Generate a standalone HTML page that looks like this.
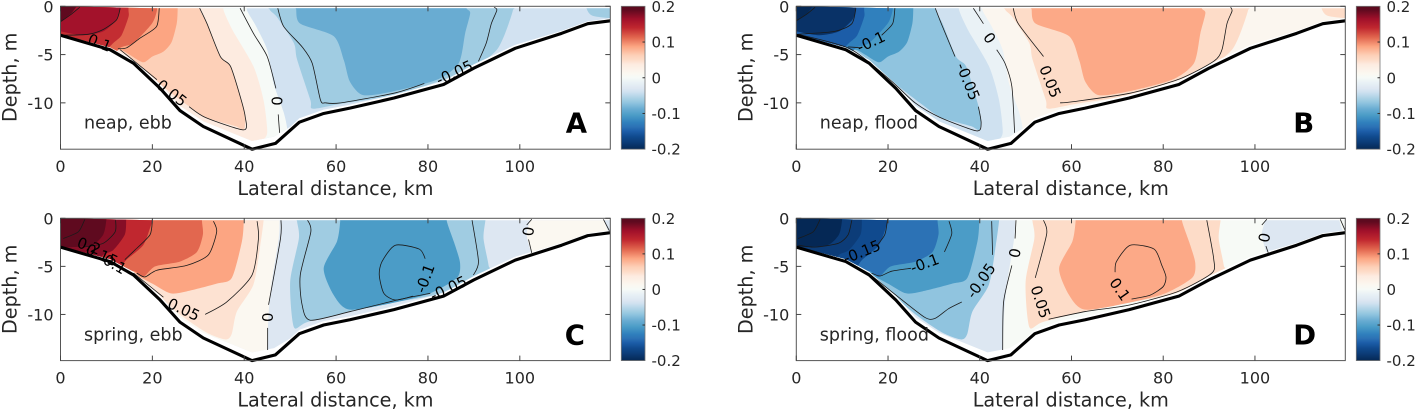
<!DOCTYPE html>
<html lang="en">
<head>
<meta charset="utf-8">
<title>Lateral sections of velocity</title>
<style>
html,body{margin:0;padding:0;background:#fff;width:1417px;height:411px;overflow:hidden}
svg{display:block}
text{font-family:"DejaVu Sans","Liberation Sans",sans-serif;fill:#262626}
text.dark{fill:#000}
</style>
</head>
<body>
<svg id="fig" xmlns="http://www.w3.org/2000/svg" width="1417" height="411" viewBox="0 0 1417 411"></svg>
<script>
// ---------- colour scale (velocity value -> colour) ----------
const colormapValues = [-0.2,-0.18,-0.165,-0.15,-0.1375,-0.125,-0.105,-0.0875,-0.07,-0.0625,-0.04,-0.03,-0.012,0,0.012,0.0375,0.05,0.0625,0.0875,0.1125,0.14,0.165,0.19,0.2];
const colormapColors = ['#052855','#0c3c78','#104a8e','#1c5da8','#2c72b5','#3080bd','#4b9cc7','#69acd2','#90c4df','#a0cce2','#cfe1f0','#dde7f2','#eaf2f6','#f6faf7','#fbf8f1','#fdebe0','#fddcc8','#fdd0b8','#fca582','#e2674f','#c0272f','#a0102a','#5f0a1f','#5a0a1e'];

// ---------- axes ----------
const xTicks = [0,20,40,60,80,100];
const yTicks = [0,-5,-10];
const colorbarTicks = [0.2,0.1,0,-0.1,-0.2];
const colorbarTickLabels = ['0.2','0.1','0','-0.1','-0.2'];
const xMaxKm = 119.7;
const yMinM = -14.8;

// ---------- bottom profile (km, m) ----------
const bathymetry = [[0,-3],[10.8,-4.5],[15.9,-5.9],[21.7,-8.5],[26,-10.8],[31.1,-12.45],[41.7,-14.8],[46.8,-14.2],[52,-12],[57.3,-11.1],[63,-10.55],[72.6,-9.5],[83.4,-8.1],[90,-6.4],[99,-4.35],[109.1,-2.8],[114.8,-1.8],[119.7,-1.5]];
const waterEdge = [[0,-2.9],[10.8,-4.25],[15.9,-5.55],[21.7,-8.05],[26,-10.3],[31.1,-11.9],[41.7,-13.95],[46.5,-13.5],[50,-12.5],[52,-11.6],[57.3,-10.7],[63,-10.2],[72.6,-9.15],[83.4,-7.75],[90,-6],[99,-4],[109.1,-2.55],[114.8,-1.55],[119.7,-1.25]];

// ---------- filled regions: neap tide sections (A, B) ----------
const neapEdges = [
 [[40.6,1],[40.6,-.4],[42.5,-2],[45,-4.5],[46.4,-8],[48.6,-11],[49.4,-13],[49,-16]],
 [[35.5,1],[35.5,-.4],[37.5,-2.5],[42,-6.2],[44.2,-9.7],[45,-13.1],[43.5,-14.2],[41,-16]],
 [[30.2,1],[30.4,-.4],[31.9,-1.8],[34.8,-5.2],[37,-6.2],[39.1,-9.3],[40.2,-11.4],[39.9,-12.8],[38,-12.4],[31.5,-11.5],[27.5,-10.2],[21,-7.8],[13,-4.6],[5,-3.4],[0,-3.3]],
 [[25.5,1],[25.5,-.4],[25.3,-1.8],[24.2,-3.7],[22.4,-4.7],[20,-5.2],[18,-5.8],[15,-5],[13,-4.5],[10,-4.6]],
 [[21,1],[21,-.4],[19.9,-1.8],[15.9,-3.8],[13,-4.3],[11,-5.5]],
 [[14.8,1],[14.8,-.4],[14.8,-1.1],[13.3,-3],[11.5,-3.8],[9,-5]],
 [[13,1],[13,-.3],[12.2,-1.4],[9.3,-2.6],[5,-3],[0,-2.6]],
 [[4.2,.5],[2.4,-.7],[0,-1.6]],
 [[45.5,1],[45.5,-.3],[47.1,-1.1],[50.8,-3.8],[51.5,-5.5],[54.4,-9.7],[54.9,-10.6],[61,-10.1],[72.6,-9.2],[83.4,-7.6],[91.4,-5.9],[95,-4.5],[96.8,-2.8],[98.5,-.4],[98.5,1]],
 [[51.3,1],[51.3,-.3],[52.2,-1.8],[59.5,-3.1],[61.7,-5.6],[63,-7.8],[65.9,-9.2],[72.6,-8.8],[82,-7.6],[86.7,-5.9],[88.1,-2.8],[89.2,-.7],[88.4,-.2],[88.4,1]],
 [[114.4,1],[114.6,-.3],[116,-1],[121,-1.1],[121,1]]
];
const neapCloses = ['left','left','left','left','left','left','left','left','loop','loop','loop'];
const panelABase = -0.0375;
const panelAValues = [0,0.0375,0.0625,0.0875,0.1125,0.1375,0.1625,0.19,-0.0625,-0.0875,-0.0625];
const panelBBase = 0.015;
const panelBValues = [-0.012,-0.04,-0.07,-0.105,-0.125,-0.15,-0.19,-0.2,0.05,0.085,0.05];

// ---------- filled regions: spring tide sections (C, D) ----------
const springEdges = [
 [[47.7,1],[47.7,-.3],[47.5,-2.1],[46,-6.6],[45.3,-10],[45,-13.9],[45,-16]],
 [[44.2,1],[44.2,-.3],[43.5,-2.8],[42,-6.9],[38.4,-9.7],[37.3,-12],[36,-12.6],[31.9,-11.9],[26,-10],[20,-7.5],[14,-5],[8,-4]],
 [[39.9,1],[39.9,-.3],[39.5,-2.4],[37.3,-6.2],[34,-6.8],[27.5,-7.6],[23.9,-7.8],[20,-6.8],[15,-5.6],[10,-5]],
 [[30.8,1],[30.8,-.3],[31,-1.7],[29.7,-3.5],[26,-4.5],[20.6,-5],[18,-6.1],[15.9,-5.5],[12,-6]],
 [[19.9,1],[19.9,-.3],[19.5,-1],[18,-2.8],[14.4,-4.3],[13.3,-5],[11,-6]],
 [[14.3,1],[14.3,-.1],[14,-1.7],[11.5,-3.3],[9.3,-3.8],[7,-5]],
 [[10,1],[10,-.1],[9.3,-1.7],[6.8,-2.8],[1.3,-3],[0,-2.8]],
 [[51.5,1],[51.5,-.3],[51.9,-2.1],[50,-6.6],[50.8,-11.3],[53.7,-10.8],[63,-9.7],[73.3,-8.7],[82.7,-7.8],[92.8,-5.4],[93.2,-4.9],[92.1,-2.1],[92.5,-.2],[92.5,1]],
 [[60.9,1],[60.9,-.3],[60.2,-2.4],[57.3,-5.2],[59.5,-8],[63,-9.5],[73.3,-8.7],[80.5,-7.8],[86.3,-6.2],[87,-4.7],[85.9,-2.8],[84.1,-.3],[84.1,1]],
 [[102.2,1],[102.2,-.2],[101.5,-1.7],[102.6,-3.8],[104,-6],[125,-6],[125,1]],
 [[118.2,1],[118.4,-.2],[119.5,-1.5],[122,-1.5],[122,1]]
];
const springCloses = ['left','left','left','left','left','left','left','loop','loop','loop','loop'];
const panelCBase = -0.03;
const panelCValues = [0.012,0.045,0.0875,0.1125,0.14,0.175,0.19,-0.0625,-0.105,0.012,-0.03];
const panelDBase = 0.003;
const panelDValues = [-0.03,-0.07,-0.105,-0.1375,-0.165,-0.18,-0.2,0.05,0.085,-0.03,0.003];

// ---------- contour lines (km, m) ----------
const panelAContours = [
 [[4.2,-.1],[2.4,-.8],[0,-1.6]],
 [[13,-.2],[12.2,-1.4],[9.3,-2.4],[6,-2.9],[.2,-3]],
 [[21.5,-.2],[20.9,-2.1],[17.3,-3.3],[14.4,-4.3],[12.5,-4.4]],
 [[30.3,-.2],[31.9,-1.8],[34.8,-5.2],[37,-6.2],[39.1,-9.3],[40.2,-11.4],[39.9,-12.8],[31.5,-11.5],[28,-10.4]],
 [[21,-7.6],[13,-4.5]],
 [[39.1,-.2],[42,-2.8],[45,-5.2],[46.9,-8.5]],
 [[47.4,-11.2],[47.7,-13.1]],
 [[47.3,-.2],[48.6,-2.1],[52.6,-4.2],[54.8,-5.9],[56.6,-9.7],[57.7,-10],[61,-10],[72.6,-9],[79.2,-8]],
 [[91,-5.7],[92.7,-3.8],[93.8,-1.8],[95,-.4],[94.4,-.1]]
];
const panelBContours = [
 [[4.1,-.1],[2.3,-.8],[0,-1.5]],
 [[13,-.2],[12.1,-1.8],[8.4,-2.6],[.4,-2.9]],
 [[21.5,-.2],[21,-1.8],[18.6,-3]],
 [[14,-4.3],[11.3,-4.2]],
 [[30.3,-.2],[31.7,-1.9],[34.6,-5.2]],
 [[39.7,-10.4],[40.3,-12.1],[39.3,-12.9],[31.3,-11.5],[25.9,-10],[20.4,-7.6],[11.7,-4.4],[.4,-2.9]],
 [[38.6,-.2],[40.8,-1.8]],
 [[43.7,-4.5],[45.5,-5.9],[47,-8.3],[47.6,-13.1]],
 [[47.3,-.2],[48.4,-1.8],[53.9,-5.2]],
 [[57.5,-10],[60,-9.9],[72.8,-9],[83.7,-7.5],[91,-5.7],[92.8,-4.5],[93.9,-1.8],[95,-.5],[94.7,-.1]]
];
const panelCContours = [
 [[5.3,-.1],[3.9,-1.4],[.6,-2.1]],
 [[12,-.2],[11.9,-1.4],[9.3,-2.6],[5,-3]],
 [[20,-.1],[19.5,-1.7],[16.2,-3.3],[14,-4.3]],
 [[33.3,-.3],[34,-1.4],[32.2,-3.8],[27.5,-4.9],[21,-5.4],[18.4,-6.1],[16.6,-5.7]],
 [[42.8,-.3],[43.1,-2.1],[41.7,-5.9],[36.2,-8.7],[31.5,-10]],
 [[22.4,-8.2],[15.9,-5.7]],
 [[48,-.2],[47.9,-2.1],[45.3,-9]],
 [[45.1,-11.4],[45.1,-13.7]],
 [[53.8,-.2],[54.5,-1.4],[52.2,-5.9],[52.6,-9],[54.4,-10.6],[63.1,-9.7],[73.3,-8.5],[80.5,-7.8]],
 [[89.9,-5.9],[91,-4.5],[89.6,-.2]],
 [[79.4,-4.2],[78.1,-3.2],[72.9,-2.8],[70,-4.5],[69.4,-5.9],[70.4,-7.8],[72.9,-8.5],[76.7,-8.1]],
 [[102.6,-.1],[101.5,-.7]],
 [[101.9,-2.2],[102.6,-3.6]],
 [[118.2,-.1],[119.5,-1.3]]
];
const panelDContours = [
 [[5.2,-.1],[3.7,-1.4],[.4,-2.1]],
 [[12.1,-.2],[11.3,-1.7],[9.2,-2.6],[4,-3],[.4,-2.8]],
 [[19.9,-.1],[19.3,-1.7],[17.5,-2.9]],
 [[33.3,-.3],[33.9,-1.6],[32.3,-3.5]],
 [[25,-5.2],[20.8,-5.5],[18.3,-6],[16.4,-5.7]],
 [[42.6,-.3],[42.8,-3.8]],
 [[36.1,-8.7],[33.2,-9.4],[30.3,-10.4],[28,-10.3],[21.5,-7.9],[15.7,-5.7]],
 [[47.9,-.2],[47.7,-2.1]],
 [[47,-4.9],[45.2,-8.7],[45,-13.7]],
 [[53.9,-.2],[54.6,-1.6],[52.1,-6.2]],
 [[55,-10.5],[63,-9.7],[72.8,-9],[83.3,-7.6],[90.6,-5.7],[91,-4.2],[89.5,-.2]],
 [[69.5,-5.6],[69.8,-4.5],[72.8,-2.8],[78,-3.2],[79.7,-4.9],[80.6,-6.1],[80,-7.1],[77.1,-8],[73.1,-8.4]],
 [[102.6,-.1],[101.5,-.7]],
 [[102.4,-2.9],[102.9,-3.6]],
 [[118.6,-.1],[119.7,-1.3]]
];

// ---------- contour labels ----------
const panelALabelText = ['0.1','0.05','0','-0.05'];
const panelALabelKm = [8.5,24.2,47,85.8];
const panelALabelDepth = [-3.8,-9,-9.8,-6.9];
const panelALabelAngle = [22,38,90,-25];
const panelBLabelText = ['-0.1','-0.05','0','0.05'];
const panelBLabelKm = [16.3,37.4,42.1,55.3];
const panelBLabelDepth = [-3.7,-7.8,-3.3,-7.8];
const panelBLabelAngle = [-25,68,55,68];
const panelCLabelText = ['0.2','0.15','0.1','0.05','0','-0.05','-0.1','0'];
const panelCLabelKm = [6.2,9,11.8,26.8,45,84.5,79.4,101.7];
const panelCLabelDepth = [-2.9,-3.85,-4.8,-9.5,-10.3,-7.3,-6.25,-1.35];
const panelCLabelAngle = [20,25,30,25,90,-25,-70,95];
const panelDLabelText = ['-0.15','-0.1','-0.05','0','0.05','0','0.1'];
const panelDLabelKm = [14.3,28,40.3,47.5,53.2,101.9,70.5];
const panelDLabelDepth = [-3.5,-4.7,-6.5,-3.6,-8.7,-2,-7.4];
const panelDLabelAngle = [-22,-20,-55,100,72,100,55];

// ---------- panel captions ----------
const panelCaptions = ['neap, ebb','neap, flood','spring, ebb','spring, flood'];
const panelLetters = ['A','B','C','D'];

const NS = 'http://www.w3.org/2000/svg';
const svg = document.getElementById('fig');
function add(parent, tag, attrs, txt){
  const el = document.createElementNS(NS, tag);
  for (const k in attrs) el.setAttribute(k, attrs[k]);
  if (txt !== undefined) el.textContent = txt;
  parent.appendChild(el);
  return el;
}
function colorOf(v){
  if (v <= colormapValues[0]) return colormapColors[0];
  for (let i = 1; i < colormapValues.length; i++){
    if (v <= colormapValues[i]){
      const t = (v - colormapValues[i-1]) / (colormapValues[i] - colormapValues[i-1]);
      const a = parseInt(colormapColors[i-1].slice(1),16), b = parseInt(colormapColors[i].slice(1),16);
      const ch = s => Math.round(((a>>s)&255)*(1-t) + ((b>>s)&255)*t);
      return 'rgb(' + ch(16) + ',' + ch(8) + ',' + ch(0) + ')';
    }
  }
  return colormapColors[colormapColors.length-1];
}
function smooth(pts, closed){
  const n = pts.length;
  const at = i => closed ? pts[(i+n)%n] : pts[Math.max(0,Math.min(n-1,i))];
  let d = 'M' + pts[0][0].toFixed(2) + ' ' + pts[0][1].toFixed(2);
  const segs = closed ? n : n-1;
  for (let i = 0; i < segs; i++){
    const p0 = at(i-1), p1 = at(i), p2 = at(i+1), p3 = at(i+2);
    const c1x = p1[0] + (p2[0]-p0[0])/8, c1y = p1[1] + (p2[1]-p0[1])/8;
    const c2x = p2[0] - (p3[0]-p1[0])/8, c2y = p2[1] - (p3[1]-p1[1])/8;
    d += 'C' + c1x.toFixed(2) + ' ' + c1y.toFixed(2) + ' ' + c2x.toFixed(2) + ' ' + c2y.toFixed(2) + ' ' + p2[0].toFixed(2) + ' ' + p2[1].toFixed(2);
  }
  return d;
}

function drawPanel(cfg){
  const X = km => cfg.left + km * (cfg.right - cfg.left) / xMaxKm;
  const Y = m => cfg.top + (m / yMinM) * (cfg.bottom - cfg.top);
  const P = p => [X(p[0]), Y(p[1])];

  const g = add(svg, 'g', {});
  
  

  // clip to water column
  const clipId = 'water-' + cfg.letter;
  const clip = add(g, 'clipPath', {id: clipId});
  const surface = [[119.7,-.2],[20,-.2],[0,0]];
  const waterPts = waterEdge.concat(surface).map(P);
  add(clip, 'polygon', {points: waterPts.map(p => p[0].toFixed(2)+','+p[1].toFixed(2)).join(' ')});

  const fills = add(g, 'g', {'clip-path': 'url(#' + clipId + ')'});
  
  

  const base = add(fills, 'rect', {x: X(0), y: Y(0), width: X(xMaxKm)-X(0), height: Y(yMinM)-Y(0), fill: colorOf(cfg.base)});
  
  

  cfg.edges.forEach((edge, i) => {
    const pts = edge.map(P);
    let d;
    if (cfg.closes[i] === 'loop') {
      d = smooth(pts, true) + 'Z';
    } else {
      d = smooth(pts, false) + 'L' + X(-1) + ' ' + Y(-16) + 'L' + X(-1) + ' ' + Y(1) + 'Z';
    }
    const band = add(fills, 'path', {d: d, fill: colorOf(cfg.values[i])});
    
    
  });

  // contour lines
  cfg.contours.forEach(line => {
    const c = add(g, 'path', {d: smooth(line.map(P), false), fill: 'none', stroke: '#1a1a1a', 'stroke-width': 0.8});
    
    
  });

  // contour labels
  cfg.labelText.forEach((t, i) => {
    const x = X(cfg.labelKm[i]), y = Y(cfg.labelDepth[i]);
    const l = add(g, 'text', {class: 'dark', x: x, y: y, 'font-size': 15, 'text-anchor': 'middle', 'dominant-baseline': 'central', transform: 'rotate(' + cfg.labelAngle[i] + ' ' + x + ' ' + y + ')'}, t);
    
    
  });

  // bottom line
  const bed = add(g, 'polyline', {points: bathymetry.map(P).map(p => p[0].toFixed(2)+','+p[1].toFixed(2)).join(' '), fill: 'none', stroke: '#000', 'stroke-width': 3.1, 'stroke-linejoin': 'round'});
  
  

  // frame
  const frame = add(g, 'rect', {x: cfg.left, y: cfg.top, width: cfg.right-cfg.left, height: cfg.bottom-cfg.top, fill: 'none', stroke: '#555', 'stroke-width': 1});
  
  

  xTicks.forEach(v => {
    const x = X(v);
    [[cfg.bottom, cfg.bottom-5],[cfg.top, cfg.top+5]].forEach(s => {
      const t = add(g, 'line', {x1: x, x2: x, y1: s[0], y2: s[1], stroke: '#444', 'stroke-width': 1});
      
      
    });
    const lab = add(g, 'text', {x: x, y: cfg.bottom + 23, 'font-size': 16, 'text-anchor': 'middle'}, String(v));
    
    
  });
  yTicks.forEach(v => {
    const y = Y(v);
    [[cfg.left, cfg.left+5],[cfg.right, cfg.right-5]].forEach(s => {
      const t = add(g, 'line', {x1: s[0], x2: s[1], y1: y, y2: y, stroke: '#444', 'stroke-width': 1});
      
      
    });
    const lab = add(g, 'text', {x: cfg.left - 7, y: y + 6, 'font-size': 16, 'text-anchor': 'end'}, String(v));
    
    
  });

  const xt = add(g, 'text', {x: (cfg.left+cfg.right)/2, y: cfg.bottom + 46, 'font-size': 19.2, 'text-anchor': 'middle'}, 'Lateral distance, km');
  
  

  const yx = cfg.left - 44, yy = cfg.top + 71;
  const yt = add(g, 'text', {x: yx, y: yy, 'font-size': 19.2, 'text-anchor': 'middle', transform: 'rotate(-90 ' + yx + ' ' + yy + ')'}, 'Depth, m');
  
  

  const cap = add(g, 'text', {x: cfg.left + 23.5, y: cfg.top + 122, 'font-size': 17.5}, cfg.caption);
  
  

  const let_ = add(g, 'text', {class: 'dark', x: cfg.right - cfg.letterInset, y: cfg.top + 126, 'font-size': 27.5, 'font-weight': 'bold'}, cfg.letter);
  
  

  // colorbar
  const cbx = cfg.right + 11, cbw = 23.7;
  const CY = v => cfg.top + (0.2 - v) / 0.4 * (cfg.bottom - cfg.top);
  const gradId = 'cb-' + cfg.letter;
  const grad = add(g, 'linearGradient', {id: gradId, x1: 0, y1: 0, x2: 0, y2: 1});
  colormapValues.slice().reverse().forEach(v => {
    add(grad, 'stop', {offset: (0.2 - v) / 0.4, 'stop-color': colorOf(v)});
  });
  const cb = add(g, 'rect', {x: cbx, y: cfg.top, width: cbw, height: cfg.bottom-cfg.top, fill: 'url(#' + gradId + ')', stroke: '#777', 'stroke-width': 0.8});
  
  
  colorbarTicks.forEach((v, i) => {
    const y = CY(v);
    if (i > 0 && i < colorbarTicks.length - 1) {
      const t = add(g, 'line', {x1: cbx + cbw - 2.5, x2: cbx + cbw, y1: y, y2: y, stroke: '#333', 'stroke-width': 1});
      
      
    }
    const lab = add(g, 'text', {x: cbx + cbw + 6.5, y: y + 5.5, 'font-size': 15}, colorbarTickLabels[i]);
    
    
  });
}

drawPanel({letter: panelLetters[0], caption: panelCaptions[0], letterInset: 44.5, left: 60.5, right: 610.3, top: 6.3, bottom: 149.2,
  base: panelABase, values: panelAValues, edges: neapEdges, closes: neapCloses, contours: panelAContours,
  labelText: panelALabelText, labelKm: panelALabelKm, labelDepth: panelALabelDepth, labelAngle: panelALabelAngle});
drawPanel({letter: panelLetters[1], caption: panelCaptions[1], letterInset: 52, left: 796.3, right: 1345.3, top: 6.3, bottom: 149.2,
  base: panelBBase, values: panelBValues, edges: neapEdges, closes: neapCloses, contours: panelBContours,
  labelText: panelBLabelText, labelKm: panelBLabelKm, labelDepth: panelBLabelDepth, labelAngle: panelBLabelAngle});
drawPanel({letter: panelLetters[2], caption: panelCaptions[2], letterInset: 45.5, left: 60.5, right: 610.3, top: 218.3, bottom: 360.6,
  base: panelCBase, values: panelCValues, edges: springEdges, closes: springCloses, contours: panelCContours,
  labelText: panelCLabelText, labelKm: panelCLabelKm, labelDepth: panelCLabelDepth, labelAngle: panelCLabelAngle});
drawPanel({letter: panelLetters[3], caption: panelCaptions[3], letterInset: 52, left: 796.3, right: 1345.3, top: 218.3, bottom: 360.6,
  base: panelDBase, values: panelDValues, edges: springEdges, closes: springCloses, contours: panelDContours,
  labelText: panelDLabelText, labelKm: panelDLabelKm, labelDepth: panelDLabelDepth, labelAngle: panelDLabelAngle});
</script>
</body>
</html>
